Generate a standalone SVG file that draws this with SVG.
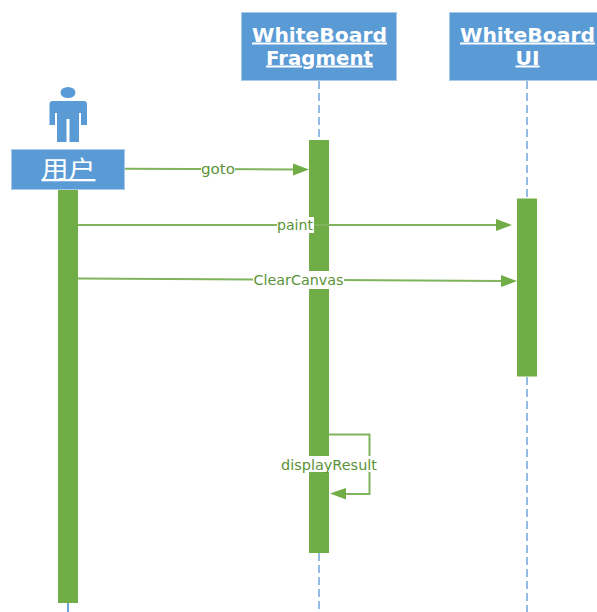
<svg xmlns="http://www.w3.org/2000/svg" width="597" height="612" viewBox="0 0 597 612">
<style>
.box{fill:#5b9bd5;stroke:#a9c9e8;stroke-width:1}
.life{stroke:#7aa9dc;stroke-width:1.6;stroke-dasharray:8 4;fill:none}
.bar{fill:#70ad47}
.msg{stroke:#7fb35c;stroke-width:2;fill:none}
.head{fill:#70ad47}
.title{font-family:"DejaVu Sans","Open Sans",sans-serif;font-weight:700;font-size:20px;fill:#fff;text-anchor:middle;text-decoration:underline}
.lab{font-family:"DejaVu Sans","Open Sans",sans-serif;font-size:13.500px;fill:#5b9238;text-anchor:middle}
.mask{fill:#fff}
</style>
<g id="connectors-lifelines">
<line class="life" x1="319" y1="81" x2="319" y2="137"/>
<line class="life" x1="319" y1="553" x2="319" y2="612"/>
<line class="life" x1="527" y1="81" x2="527" y2="197"/>
<line class="life" x1="527" y1="377" x2="527" y2="612"/>
<line x1="68" y1="603" x2="68" y2="612" stroke="#6ea5dc" stroke-width="2"/>
</g>
<g id="actor">
<ellipse cx="68" cy="92.500" rx="7.500" ry="5.500" fill="#5b9bd5"/>
<path d="M53 101H84Q87 101 87 104V125H81V113H79V142H69.500V119H66.500V142H57V113H55V125H49.500V104Q49.500 101 53 101Z" fill="#5b9bd5"/>
</g>
<g id="user">
<rect class="bar" x="58" y="189" width="20" height="414"/>
<rect class="box" x="11.500" y="149.500" width="113" height="40"/>
<text x="68.500" y="177" font-family="'Noto Sans CJK SC',sans-serif" font-size="23" fill="#fff" text-anchor="middle" text-decoration="underline" textLength="54" lengthAdjust="spacingAndGlyphs">用户</text>
</g>
<g id="fragment">
<rect class="box" x="241.500" y="12.500" width="155" height="68"/>
<text class="title" x="319.500" y="41.500" textLength="135" lengthAdjust="spacingAndGlyphs">WhiteBoard</text>
<text class="title" x="319.500" y="64.500" textLength="107" lengthAdjust="spacingAndGlyphs">Fragment</text>
<rect class="bar" x="309" y="140" width="20" height="413"/>
</g>
<g id="ui">
<rect class="box" x="449.500" y="12.500" width="155" height="68"/>
<text class="title" x="527.500" y="41.500" textLength="135" lengthAdjust="spacingAndGlyphs">WhiteBoard</text>
<text class="title" x="527.500" y="64.500" textLength="24" lengthAdjust="spacingAndGlyphs">UI</text>
<rect class="bar" x="517" y="198.500" width="20" height="178"/>
</g>
<g id="connectors">
<line class="msg" x1="125" y1="168.700" x2="294" y2="169.500"/>
<polygon class="head" points="293,163.500 309,169.500 293,175.500"/>
<line class="msg" x1="78" y1="225" x2="497" y2="225"/>
<polygon class="head" points="496,219 512,225 496,231"/>
<line class="msg" x1="78" y1="278.500" x2="502" y2="281"/>
<polygon class="head" points="501,275 517,281 501,287"/>
<path class="msg" d="M329 434.500H369.500V494H345"/>
<polygon class="head" points="346,488 330,493.500 346,499.500"/>
</g>
<g id="labels">
<rect class="mask" x="201" y="162" width="34" height="14"/>
<text class="lab" x="218" y="173.500" textLength="34" lengthAdjust="spacingAndGlyphs">goto</text>
<rect class="mask" x="277" y="217" width="37" height="16"/>
<text class="lab" x="295" y="229.500" textLength="36" lengthAdjust="spacingAndGlyphs">paint</text>
<rect class="mask" x="253" y="271" width="91" height="18"/>
<text class="lab" x="298.500" y="284.500" textLength="90" lengthAdjust="spacingAndGlyphs">ClearCanvas</text>
<rect class="mask" x="280" y="456" width="98" height="16"/>
<text class="lab" x="329" y="469.500" textLength="96" lengthAdjust="spacingAndGlyphs">displayResult</text>
</g>
</svg>
